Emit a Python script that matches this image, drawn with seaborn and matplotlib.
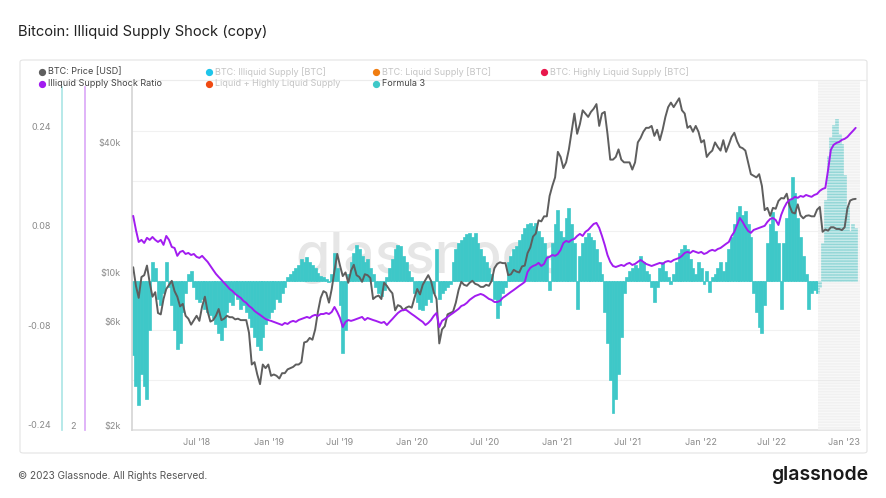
import numpy as np
import pandas as pd
import matplotlib
matplotlib.use("Agg")
import matplotlib.pyplot as plt
import matplotlib.transforms as mtransforms
from matplotlib.lines import Line2D
from matplotlib.patches import FancyBboxPatch
import seaborn as sns

sns.set_theme(style="white")
plt.rcParams["font.family"] = ["Inter", "DejaVu Sans"]

# weekly samples, starting 2018-01-22
dates = pd.date_range("2018-01-22", periods=263, freq="7D")

btc_price = [
    # 2018
    11200, 9200, 8100, 10100, 10300, 11400, 9500, 8200, 8600, 6900,
    6800, 8000, 8900, 9300, 9700, 8700, 8200, 7400, 7600, 6700,
    6500, 6100, 6400, 6700, 6350, 7400, 8200, 7000, 6300, 6400,
    6700, 7200, 6400, 6500, 6700, 6600, 6600, 6450, 6500, 6400,
    6400, 6400, 5600, 4000, 4100, 3600, 3250, 4000, 3850, 4000,
    # 2019
    3550, 3600, 3550, 3450, 3650, 3650, 3800, 3850, 3900, 4000,
    4000, 4100, 5050, 5100, 5300, 5200, 5800, 7000, 8100, 8700,
    8550, 7700, 8900, 10800, 12900, 11400, 10200, 10600, 9500, 10800,
    11500, 10300, 10100, 9600, 10400, 10300, 10000, 8000, 8200, 8300,
    8000, 9500, 9200, 8800, 8500, 7100, 7500, 7400, 7100, 7300,
    7400, 7300,
    # 2020
    8100, 8900, 8400, 9300, 9800, 10300, 9700, 8600, 8000, 5000,
    5800, 6000, 6800, 6900, 7000, 7700, 8800, 9600, 9300, 9200,
    9500, 9700, 9400, 9300, 9100, 9100, 9300, 9200, 9700, 11100,
    11600, 11800, 11700, 11700, 10300, 10400, 10900, 10700, 10600, 11300,
    11400, 13000, 13800, 15500, 16000, 18400, 18200, 19200, 19200, 23800,
    26500, 29000,
    # 2021
    38000, 36000, 32000, 34000, 39000, 47000, 57000, 46000, 51000, 59000,
    57000, 55000, 58000, 60000, 63000, 50000, 57000, 58000, 46000, 35000,
    35000, 36000, 39000, 35000, 34000, 34000, 34000, 31500, 34000, 42000,
    44000, 47000, 49000, 49000, 50000, 45000, 48000, 43000, 48000, 55000,
    61000, 64000, 61000, 64000, 67000, 59000, 57000, 49000, 50000, 47000,
    50000, 47000,
    # 2022
    42000, 43000, 36000, 37500, 38500, 42000, 40000, 38500, 43000, 38000,
    41000, 44500, 46500, 42500, 40000, 39500, 38500, 34000, 30000, 29500,
    29000, 30000, 26500, 20500, 21000, 19300, 21000, 20800, 22600, 23300,
    23200, 24400, 21500, 20000, 19800, 21800, 19400, 18800, 19300, 19400,
    19200, 19200, 20600, 21200, 16300, 16700, 16500, 17100, 17100, 16800,
    16800, 16600,
    # 2023
    17100, 20900, 22700, 23000, 23100,
]

iss_ratio = [
    3.248, 3.166, 3.096, 3.108, 3.09, 3.12, 3.108, 3.125, 3.108, 3.096,
    3.108, 3.079, 3.131, 3.108, 3.067, 3.061, 3.015, 3.038, 3.044, 3.026,
    3.032, 3.02, 3.026, 3.009, 3.003, 3.015, 2.997, 2.98, 2.956, 2.933,
    2.91, 2.892, 2.875, 2.857, 2.84, 2.822, 2.81, 2.793, 2.781, 2.77,
    2.752, 2.741, 2.723, 2.711, 2.694, 2.682, 2.671, 2.659, 2.647, 2.641,
    2.636, 2.63, 2.624, 2.618, 2.612, 2.624, 2.618, 2.63, 2.636, 2.63,
    2.641, 2.647, 2.653, 2.659, 2.653, 2.665, 2.671, 2.665, 2.676, 2.676,
    2.682, 2.676, 2.688, 2.717, 2.688, 2.653, 2.6, 2.63, 2.641, 2.636,
    2.641, 2.647, 2.653, 2.659, 2.641, 2.653, 2.647, 2.641, 2.636, 2.63,
    2.624, 2.63, 2.612, 2.63, 2.647, 2.665, 2.682, 2.694, 2.7, 2.7,
    2.688, 2.676, 2.665, 2.653, 2.641, 2.63, 2.612, 2.624, 2.641, 2.665,
    2.682, 2.6, 2.636, 2.647, 2.659, 2.671, 2.682, 2.694, 2.706, 2.723,
    2.729, 2.741, 2.758, 2.77, 2.781, 2.787, 2.793, 2.787, 2.776, 2.764,
    2.758, 2.746, 2.746, 2.752, 2.77, 2.781, 2.793, 2.805, 2.816, 2.828,
    2.84, 2.851, 2.863, 2.921, 2.945, 2.956, 2.962, 2.974, 2.956, 2.968,
    3.003, 3.009, 3.02, 3.015, 3.026, 3.05, 3.09, 3.102, 3.096, 3.108,
    3.114, 3.131, 3.143, 3.131, 3.155, 3.166, 3.184, 3.201, 3.207, 3.178,
    3.131, 3.079, 3.02, 2.98, 2.956, 2.95, 2.956, 2.962, 2.956, 2.968,
    2.974, 2.962, 2.968, 2.98, 2.991, 2.98, 2.968, 2.962, 2.956, 2.962,
    2.968, 2.974, 2.968, 2.98, 2.985, 2.98, 2.991, 2.997, 3.003, 3.015,
    3.032, 3.038, 3.032, 3.044, 3.038, 3.032, 3.038, 3.026, 3.032, 3.044,
    3.05, 3.044, 3.055, 3.061, 3.073, 3.085, 3.096, 3.131, 3.155, 3.195,
    3.236, 3.213, 3.184, 3.16, 3.149, 3.166, 3.172, 3.178, 3.184, 3.19,
    3.213, 3.23, 3.236, 3.224, 3.195, 3.254, 3.294, 3.324, 3.341, 3.347,
    3.359, 3.353, 3.364, 3.359, 3.37, 3.364, 3.359, 3.37, 3.376, 3.394,
    3.405, 3.411, 3.516, 3.633, 3.662, 3.673, 3.679, 3.691, 3.697, 3.708,
    3.726, 3.743, 3.761,
]

formula3 = [
    -0.12, -0.17, -0.20, -0.15, -0.17, -0.19, -0.08, 0.03, 0.02, -0.03,
    -0.04, -0.02, 0.03, -0.01, -0.04, -0.08, -0.11, -0.10, -0.05, -0.02,
    0.01, 0.015, -0.01, -0.03, -0.035, -0.03, -0.045, -0.05, -0.055, -0.06,
    -0.07, -0.085, -0.095, -0.075, -0.05, -0.035, -0.04, -0.02, -0.03, -0.045,
    -0.04, -0.05, -0.06, -0.075, -0.09, -0.105, -0.112, -0.09, -0.07, -0.06,
    -0.05, -0.045, -0.03, -0.035, -0.02, -0.01, 0.005, 0.01, 0.015, 0.02,
    0.025, 0.035, 0.03, 0.038, 0.03, 0.025, 0.02, 0.012, 0.008, 0.005,
    0.002, -0.003, 0.01, 0.044, 0.02, -0.04, -0.117, -0.08, 0.01, 0.03,
    0.045, 0.057, 0.05, 0.04, 0.03, 0.035, 0.02, 0.01, -0.01, -0.02,
    -0.025, -0.015, 0.005, 0.02, 0.035, 0.05, 0.057, 0.055, 0.04, 0.03,
    0.015, 0.005, -0.02, -0.035, -0.045, -0.048, -0.04, -0.03, -0.035, -0.02,
    0.05, -0.03, -0.02, -0.015, -0.01, -0.005, 0.03, 0.05, 0.06, 0.065,
    0.07, 0.075, 0.077, 0.07, 0.076, 0.06, 0.05, 0.04, 0.03, 0.02,
    0.01, -0.03, -0.06, -0.04, -0.02, -0.01, 0.03, 0.04, 0.05, 0.055,
    0.065, 0.075, 0.085, 0.09, 0.093, 0.088, 0.092, 0.08, 0.07, 0.06,
    0.04, -0.015, 0.06, 0.09, 0.114, 0.08, 0.07, 0.1, 0.117, 0.09,
    0.06, -0.045, 0.04, 0.06, 0.07, 0.076, 0.07, 0.065, 0.05, 0.03,
    0.01, -0.05, -0.10, -0.16, -0.213, -0.19, -0.15, -0.09, -0.02, 0.005,
    0.015, 0.02, 0.025, 0.02, 0.04, 0.03, 0.015, 0.01, -0.01, -0.035,
    -0.01, 0.02, 0.03, 0.015, 0.005, -0.005, 0.01, 0.03, 0.045, 0.05,
    0.057, 0.05, 0.035, 0.02, 0.01, 0.03, 0.02, -0.005, 0.015, -0.018,
    0.005, 0.01, 0.02, 0.03, 0.015, 0.03, 0.05, 0.07, 0.09, 0.11,
    0.12, 0.105, 0.112, 0.09, 0.07, -0.02, -0.05, -0.075, -0.085, -0.04,
    0.06, 0.09, 0.11, 0.08, 0.06, -0.045, 0.06, 0.1, 0.13, 0.167,
    0.14, 0.1, 0.07, 0.04, 0.01, -0.045, -0.02, -0.015, -0.02, -0.01,
    0.06, 0.13, 0.2, 0.23, 0.25, 0.26, 0.235, 0.22, 0.17, 0.12,
    0.08, 0.09, 0.085,
]

assert len(btc_price) == len(dates) == len(iss_ratio) == len(formula3)

x_tick_dates = pd.to_datetime(["2018-07-01", "2019-01-01", "2019-07-01", "2020-01-01",
                               "2020-07-01", "2021-01-01", "2021-07-01", "2022-01-01",
                               "2022-07-01", "2023-01-01"])
x_tick_labels = ["Jul '18", "Jan '19", "Jul '19", "Jan '20", "Jul '20",
                 "Jan '21", "Jul '21", "Jan '22", "Jul '22", "Jan '23"]
f3_ticks = [-0.24, -0.08, 0.08, 0.24]
f3_tick_labels = ["-0.24", "-0.08", "0.08", "0.24"]
iss_ticks = [2]
iss_tick_labels = ["2"]
price_ticks = [2000, 6000, 10000, 40000]
price_tick_labels = ["$2k", "$6k", "$10k", "$40k"]

legend_items = [
    ("BTC: Price [USD]", "#5e5e5e", True),
    ("BTC: Illiquid Supply [BTC]", "#1ec5ea", False),
    ("BTC: Liquid Supply [BTC]", "#f07d10", False),
    ("BTC: Highly Liquid Supply [BTC]", "#e8174c", False),
    ("Illiquid Supply Shock Ratio", "#a21cf0", True),
    ("Liquid + Highly Liquid Supply", "#f04a12", False),
    ("Formula 3", "#3ec8c8", True),
]

TEAL = "#3ec8c8"
GRAY = "#5e5e5e"
PURPLE = "#a21cf0"
TICK_C = "#8a8a8a"
W, H = 886, 498


def fx(px):
    return px / W


def fy(py):
    return 1 - py / H


fig = plt.figure(figsize=(8.86, 4.98), dpi=100)

# outer panel
fig.add_artist(FancyBboxPatch((fx(20), fy(453)), fx(867) - fx(20), fy(60) - fy(453),
                              boxstyle="round,pad=0,rounding_size=0.004",
                              transform=fig.transFigure, fc="none", ec="#e4e4e4", lw=0.8))
fig.add_artist(Line2D([fx(60), fx(867)], [fy(80), fy(80)], transform=fig.transFigure,
                      color="#ececec", lw=0.8))

ax_bars = fig.add_axes([fx(132), fy(430), fx(860) - fx(132), fy(80) - fy(430)])
ax_price = ax_bars.twinx()
ax_iss = ax_bars.twinx()

# formula 3 bars
for g in [-0.16, -0.08, 0, 0.08, 0.16, 0.24]:
    ax_bars.axhline(g, color="#f1f1f1", lw=0.8, zorder=0)
ax_bars.text(0.412, 0.49, "glassnode", transform=ax_bars.transAxes, fontsize=40,
             color="#e6e6e6", ha="center", va="center", fontweight="medium", zorder=1)
ax_bars.bar(dates, formula3, width=7.6, color=TEAL, edgecolor=TEAL, linewidth=0.5,
            zorder=2)
ax_bars.axvspan(pd.Timestamp("2022-10-27"), pd.Timestamp("2023-02-10"), facecolor="#e4e4e4",
                alpha=0.5, hatch="------", edgecolor="white", linewidth=0, zorder=3)
ax_bars.set_ylim(-0.24, 0.322)
ax_bars.set_xlim(pd.Timestamp("2018-01-19"), pd.Timestamp("2023-02-10"))

# price and ratio lines
sns.lineplot(x=dates, y=btc_price, ax=ax_price, color=GRAY, lw=1.4)
ax_price.set_yscale("log")
ax_price.set_ylim(2000, 81300)
sns.lineplot(x=dates, y=iss_ratio, ax=ax_iss, color=PURPLE, lw=1.4)
ax_iss.set_ylim(2, 4.04)

for a in (ax_bars, ax_price, ax_iss):
    for s in a.spines.values():
        s.set_visible(False)
    a.set_xlabel("")
    a.set_ylabel("")
    a.grid(False)

ax_bars.spines["bottom"].set_visible(True)
ax_bars.spines["bottom"].set_color("#e2e2e2")
ax_bars.spines["left"].set_visible(True)
ax_bars.spines["left"].set_position(("axes", -70 / 728))
ax_bars.spines["left"].set_color("#aee6e6")
ax_bars.spines["left"].set_bounds(-0.24, 0.3106)

ax_iss.yaxis.set_ticks_position("left")
ax_iss.yaxis.set_label_position("left")
ax_iss.spines["left"].set_visible(True)
ax_iss.spines["left"].set_position(("axes", -47 / 728))
ax_iss.spines["left"].set_color("#dcaaf7")
ax_iss.spines["left"].set_bounds(2, 4.0)

ax_price.yaxis.set_ticks_position("left")
ax_price.yaxis.set_label_position("left")
ax_price.spines["left"].set_visible(True)
ax_price.spines["left"].set_color("#d6d6d6")
ax_price.spines["left"].set_bounds(2000, 75500)

ax_bars.set_yticks(f3_ticks)
ax_bars.set_yticklabels(f3_tick_labels)
ax_iss.set_yticks(iss_ticks)
ax_iss.set_yticklabels(iss_tick_labels)
ax_price.set_yticks(price_ticks)
ax_price.set_yticklabels(price_tick_labels)
ax_price.yaxis.set_minor_locator(matplotlib.ticker.NullLocator())

ax_bars.set_xticks(x_tick_dates)
ax_bars.set_xticklabels(x_tick_labels)
ax_bars.tick_params(axis="x", length=0, pad=6, labelsize=6.5, labelcolor=TICK_C)

offset = mtransforms.ScaledTranslation(0, 5 / 100, fig.dpi_scale_trans)
for a, pad in ((ax_bars, 8), (ax_iss, 7), (ax_price, 8)):
    a.tick_params(axis="y", which="both", length=0, pad=pad, labelsize=6.5, labelcolor=TICK_C)
    for lbl in a.get_yticklabels():
        lbl.set_transform(lbl.get_transform() + offset)

# legend
legend_pos = [(42, 72), (209, 72), (376, 72), (544, 72), (42, 84), (209, 84), (376, 84)]
for (name, col, active), (px, py) in zip(legend_items, legend_pos):
    fig.add_artist(Line2D([fx(px)], [fy(py)], transform=fig.transFigure, marker="o",
                          markersize=4.2, color=col, lw=0))
    fig.text(fx(px + 6), fy(py), name, fontsize=6.5, va="center", ha="left",
             color="#444444" if active else "#c4c4c4")

fig.text(fx(18), fy(32), "Bitcoin: Illiquid Supply Shock (copy)", fontsize=10.6,
         color="#222222", va="center", ha="left")
fig.text(fx(18), fy(476), "\u00a9 2023 Glassnode. All Rights Reserved.", fontsize=7.2,
         color="#555555", va="center", ha="left")
fig.text(fx(868), fy(475), "glassnode", fontsize=14, color="#1a1a1a", va="center",
         ha="right", fontweight="semibold")

fig.savefig("out.png", dpi=100)
